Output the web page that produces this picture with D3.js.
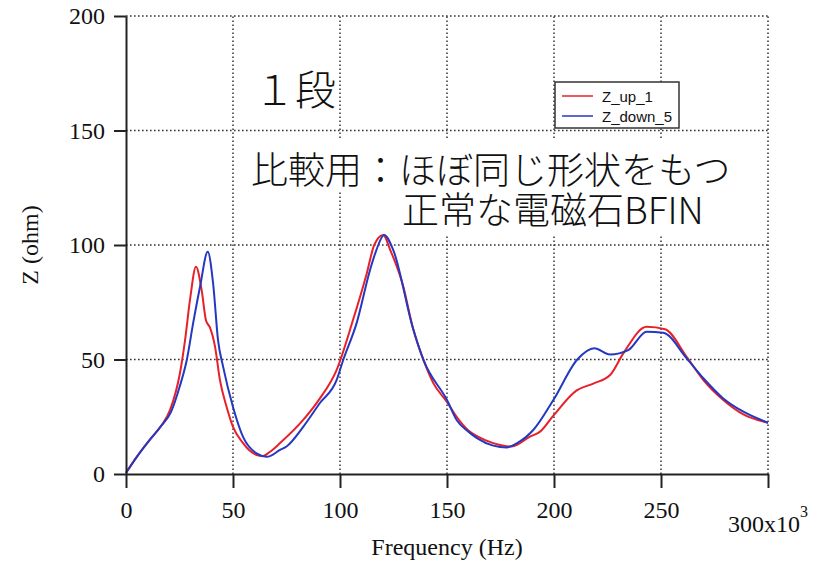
<!DOCTYPE html>
<html>
<head>
<meta charset="utf-8">
<script src="https://cdn.jsdelivr.net/npm/d3@7"></script>
<style>
  body { margin: 0; background: #fff; }
  .ticksLabel text { font-family: "Liberation Serif", "Times New Roman", serif; font-size: 24px; fill: #111; }
  .ticksLabel path, .ticksLabel line { stroke: #222; stroke-width: 2; }
  .axisLabel { font-family: "Liberation Serif", "Times New Roman", serif; font-size: 24px; fill: #111; }
  .grid line { stroke: #333; stroke-width: 1.5; stroke-dasharray: 1.6,2.4; }
  .note { font-family: "Noto Sans CJK JP", sans-serif; font-weight: 300; fill: #111; }
  .legendText { font-family: "Liberation Sans", Arial, sans-serif; font-size: 15px; fill: #111; }
</style>
</head>
<body>
<div class="chart_container"></div>
<script>
var width = 828
var height = 566

// frequency in kHz (axis is x10^3 Hz), impedance in ohm
var upFreq = [0, 5, 11, 16, 20.6, 25.2, 27.6, 29.9, 32.7, 35.4, 37.4, 39.2, 41.6, 43.9, 47, 50, 54.8, 58, 61, 64, 67.3, 72, 82.8, 90.6, 98.4, 106, 112.5, 116, 120.2, 123.4, 129.6, 134, 139, 143.6, 149.9, 154.5, 160, 164, 171.6, 180.2, 188.8, 193.5, 199.7, 210.6, 218.4, 226.2, 232.4, 243.3, 251.9, 262, 269.8, 279.1, 288.5, 300]
var upZ    = [0.5, 7.5, 14.8, 20.5, 28, 44, 58.5, 76, 90.5, 80, 67, 64, 55.6, 41, 29.4, 20.6, 13.4, 10, 8.3, 7.9, 9.7, 13.5, 23.6, 33, 45.4, 67, 87.6, 100, 104.4, 98, 81.8, 64, 49.8, 39.7, 31.6, 25, 19, 16.5, 13.5, 12, 16.3, 18.5, 25.5, 36.5, 39.5, 43.2, 52.7, 64.3, 63.2, 51.2, 41, 32.3, 26, 22.4]

var downFreq = [0, 5, 11, 16, 21, 25.2, 28.4, 31.4, 34.6, 38.2, 40.7, 43, 45.4, 50, 54.8, 61, 65.8, 72, 75, 82.8, 90.6, 98.4, 101.5, 107.8, 114, 117, 120.6, 124.8, 134, 139, 150, 154.5, 160, 164, 171.6, 177.9, 182.6, 190.3, 199.7, 211, 218.8, 226.2, 234.7, 243.3, 251, 262, 269.8, 279.1, 288.5, 300]
var downZ    = [0.5, 7.4, 14.8, 20.5, 27, 38.5, 49.8, 66, 81.8, 97, 83.3, 58.5, 46.8, 29.3, 16, 9, 7.5, 10.5, 12, 20.6, 31, 41, 49.8, 66, 89, 97.8, 104.4, 98, 64, 49.8, 32.3, 23.6, 18.5, 15.7, 12.4, 11.6, 13.4, 19.2, 32.3, 50.1, 54.9, 52.2, 54.1, 62.1, 61.7, 50.5, 41.8, 33, 27.2, 22.4]

var xTicks = [0, 50, 100, 150, 200, 250, 300]
var yTicks = [0, 50, 100, 150, 200]

var seriesNames = ["Z_up_1", "Z_down_5"]
var seriesColors = ["#e8202a", "#2438c0"]

var svg = d3.select(".chart_container").append("svg")
                             .attr("width", width)
                             .attr("height", height);

var scaleFreq = d3.scaleLinear()
                  .domain([0, 300])
                  .range([126, 768]);

var scaleZ = d3.scaleLinear()
               .domain([0, 200])
               .range([474, 16]);

// dotted grid
svg.append("g")
  .attr("class", "grid")
  .selectAll("line")
  .data(xTicks.slice(1))
  .enter().append("line")
  .attr("x1", scaleFreq).attr("x2", scaleFreq)
  .attr("y1", scaleZ(0)).attr("y2", scaleZ(200));

svg.append("g")
  .attr("class", "grid")
  .selectAll("line")
  .data(yTicks.slice(1))
  .enter().append("line")
  .attr("y1", scaleZ).attr("y2", scaleZ)
  .attr("x1", scaleFreq(0)).attr("x2", scaleFreq(300));

// annotations (the comment lines sit on white boxes)
svg.append("rect").attr("x", 245).attr("y", 140).attr("width", 497).attr("height", 52).style("fill", "#fff");
svg.append("rect").attr("x", 395).attr("y", 192).attr("width", 305).attr("height", 44).style("fill", "#fff");

svg.append("text")
  .attr("class", "note")
  .attr("x", 254).attr("y", 105)
  .style("font-size", "41px")
  .text("１段");

svg.append("text")
  .attr("class", "note")
  .attr("x", 251).attr("y", 184)
  .style("font-size", "37px")
  .text("比較用：ほぼ同じ形状をもつ");

svg.append("text")
  .attr("class", "note")
  .attr("x", 402).attr("y", 224)
  .style("font-size", "37px")
  .text("正常な電磁石BFIN");

// curves
var zLine = d3.line()
              .curve(d3.curveMonotoneX)
              .x(function(d) { return scaleFreq(d[0]); })
              .y(function(d) { return scaleZ(d[1]); });

var upData = d3.zip(upFreq, upZ);
var downData = d3.zip(downFreq, downZ);

svg.append("path")
  .datum(upData)
  .attr("d", zLine)
  .style("fill", "none")
  .style("stroke", seriesColors[0])
  .style("stroke-width", 2);

svg.append("path")
  .datum(downData)
  .attr("d", zLine)
  .style("fill", "none")
  .style("stroke", seriesColors[1])
  .style("stroke-width", 2);

// axes
var axisBottom = d3.axisBottom(scaleFreq)
                   .tickValues(xTicks)
                   .tickSize(14)
                   .tickSizeOuter(0)
                   .tickPadding(13)
                   .tickFormat(function(d) { return d == 300 ? "" : d; });

var axisLeft = d3.axisLeft(scaleZ)
                 .tickValues(yTicks)
                 .tickSize(12)
                 .tickSizeOuter(0)
                 .tickPadding(9);

svg.append("g")
  .attr("class", "ticksLabel")
  .attr("transform", "translate(0," + scaleZ(0) + ")")
  .call(axisBottom);

svg.append("g")
  .attr("class", "ticksLabel")
  .attr("transform", "translate(" + scaleFreq(0) + ",0)")
  .call(axisLeft);

var lastLabel = svg.append("text")
  .attr("class", "axisLabel")
  .attr("x", scaleFreq(300))
  .attr("y", 532)
  .style("text-anchor", "middle");
lastLabel.append("tspan").text("300x10");
lastLabel.append("tspan").attr("dy", -15).style("font-size", "16px").text("3");

svg.append("text")
  .attr("class", "axisLabel")
  .attr("x", scaleFreq(150))
  .attr("y", 555)
  .style("text-anchor", "middle")
  .text("Frequency (Hz)");

svg.append("text")
  .attr("class", "axisLabel")
  .attr("transform", "translate(38," + scaleZ(100) + ") rotate(-90)")
  .style("text-anchor", "middle")
  .text("Z (ohm)");

// legend
svg.append("rect")
  .attr("x", 555).attr("y", 82)
  .attr("width", 124).attr("height", 46)
  .style("fill", "#fff")
  .style("stroke", "#333")
  .style("stroke-width", 1.5);

var legendRows = svg.selectAll(".legendRow")
                    .data(seriesNames)
                    .enter().append("g")
                    .attr("class", "legendRow")
                    .attr("transform", function(d, i) { return "translate(0," + (96 + i * 20) + ")"; });

legendRows.append("line")
  .attr("x1", 562).attr("x2", 593)
  .style("stroke", function(d, i) { return seriesColors[i]; })
  .style("stroke-width", 1.5);

legendRows.append("text")
  .attr("class", "legendText")
  .attr("x", 602).attr("y", 6)
  .text(function(d) { return d; });
</script>
</body>
</html>
